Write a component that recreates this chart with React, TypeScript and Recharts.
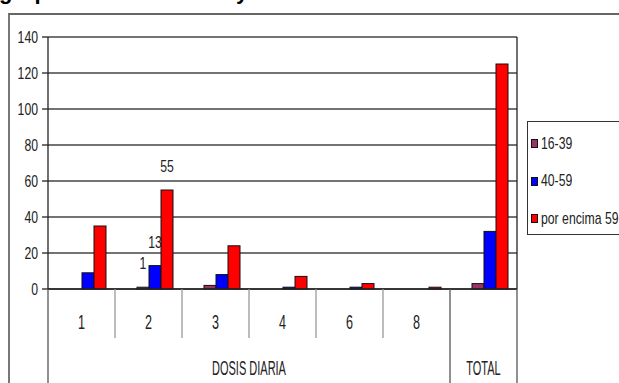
import React from "react"
import { BarChart, Bar, XAxis, YAxis, CartesianGrid, Legend, LabelList } from "recharts"

// dose levels (first axis level) + total column
const doseLevels = ["1", "2", "3", "4", "6", "8"]
const groupLabels = ["DOSIS DIARIA", "TOTAL"]
const categories = [...doseLevels, "TOTAL"]

const age16to39 = [0, 1, 2, 0, 0, 0, 3]
const age40to59 = [9, 13, 8, 1, 1, 0, 32]
const ageOver59 = [35, 55, 24, 7, 3, 1, 125]

const yTicks = [0, 20, 40, 60, 80, 100, 120, 140]
const labeledCategory = "2"

const series = [
  { key: "a", name: "16-39", color: "#993366", values: age16to39 },
  { key: "b", name: "40-59", color: "#0000ff", values: age40to59 },
  { key: "c", name: "por encima 59", color: "#ff0000", values: ageOver59 },
]

const data = categories.map((category, i) => ({
  category,
  a: age16to39[i],
  b: age40to59[i],
  c: ageOver59[i],
}))

const FONT = "'Liberation Sans', Arial, sans-serif"
const TEXT = "#222"
const SHIFT = 6 // excel draws the bar cluster a bit right of the category center

function CategoryTick(props: any) {
  const { x, y, payload, index } = props
  const half = typeof payload?.offset === "number" && payload.offset > 0 ? payload.offset : 33.5
  const n = doseLevels.length
  const isLongLeft = index === 0 || index === n
  const mid = (n - 1) / 2
  return (
    <g transform={`translate(${x},${y})`}>
      <line
        x1={-half}
        x2={-half}
        y1={0}
        y2={isLongLeft ? 94 : 49}
        stroke={isLongLeft ? "#555" : "#999"}
        strokeWidth={1.3}
      />
      {index === n && <line x1={half} x2={half} y1={0} y2={94} stroke="#555" strokeWidth={1.3} />}
      {index < n && (
        <text
          textAnchor="middle"
          y={40}
          fontSize={21}
          fontFamily={FONT}
          fill={TEXT}
          transform="scale(0.6,1)"
        >
          {payload.value}
        </text>
      )}
      {index === Math.floor(mid) && (
        <g transform={`translate(${(mid - index) * 2 * half},86)`}>
          <text textAnchor="middle" fontSize={20} fontFamily={FONT} fill={TEXT} transform="scale(0.55,1)">
            {groupLabels[0]}
          </text>
        </g>
      )}
      {index === n && (
        <text textAnchor="middle" y={86} fontSize={20} fontFamily={FONT} fill={TEXT} transform="scale(0.55,1)">
          {groupLabels[1]}
        </text>
      )}
    </g>
  )
}

function ValueTick(props: any) {
  const { x, y, payload } = props
  return (
    <g transform={`translate(${x},${y})`}>
      <text textAnchor="end" dy="0.355em" fontSize={17} fontFamily={FONT} fill={TEXT} transform="scale(0.72,1)">
        {payload.value}
      </text>
    </g>
  )
}

function ShiftedBar(props: any) {
  const { x, y, width, height, fill } = props
  if (!height || height <= 0) return <g />
  return <rect x={x + SHIFT} y={y} width={width} height={height} fill={fill} stroke="#111" strokeWidth={1} />
}

function PointLabel(props: any) {
  const { x, y, width, value, index } = props
  if (categories[index] !== labeledCategory) return null
  const cx = x + SHIFT + width / 2
  return (
    <g transform={`translate(${cx},${y - 18})`}>
      <text textAnchor="middle" fontSize={17} fontFamily={FONT} fill={TEXT} transform="scale(0.72,1)">
        {value}
      </text>
    </g>
  )
}

function LegendBox() {
  return (
    <div
      style={{
        width: 130,
        height: 114,
        boxSizing: "border-box",
        border: "1px solid #333",
        background: "#fff",
        paddingTop: 3,
      }}
    >
      {series.map((s) => (
        <div key={s.key} style={{ height: 37.5, display: "flex", alignItems: "center", position: "relative" }}>
          <span
            style={{
              position: "absolute",
              left: 3,
              width: 7,
              height: 9,
              background: s.color,
              border: "1px solid #111",
              boxSizing: "border-box",
            }}
          />
          <span
            style={{
              position: "absolute",
              left: 13,
              fontFamily: FONT,
              fontSize: 17,
              color: TEXT,
              whiteSpace: "nowrap",
              transform: "scaleX(0.72)",
              transformOrigin: "left center",
            }}
          >
            {s.name}
          </span>
        </div>
      ))}
    </div>
  )
}

export default function App() {
  return (
    <div
      style={{
        position: "absolute",
        left: 0,
        top: 0,
        width: 619,
        height: 383,
        overflow: "hidden",
        background: "#fff",
      }}
    >
      <svg width={619} height={20} style={{ position: "absolute", left: 0, top: 0 }}>
        <text y={-1} fontSize={22} fontWeight="bold" fontFamily={FONT} fill="#000">
          <tspan x={-1}>grupo de edad</tspan>
          <tspan x={236}>y dosis diaria</tspan>
        </text>
      </svg>
      <div
        style={{
          position: "absolute",
          left: 8,
          top: 13,
          width: 700,
          height: 500,
          borderLeft: "2px solid #777",
          borderTop: "2px solid #666",
        }}
      />
      <div style={{ position: "absolute", left: 0, top: 0 }}>
        <BarChart
          width={619}
          height={383}
          data={data}
          margin={{ top: 37, right: 101, left: 0, bottom: 0 }}
          barGap={0}
          barSize={12}
        >
          <CartesianGrid horizontal vertical={false} stroke="#444" strokeWidth={1.6} />
          <XAxis
            dataKey="category"
            height={94}
            interval={0}
            tickSize={0}
            tickMargin={0}
            tickLine={false}
            axisLine={{ stroke: "#222", strokeWidth: 1.5 }}
            tick={<CategoryTick />}
          />
          <YAxis
            domain={[0, 140]}
            ticks={yTicks}
            interval={0}
            width={48}
            tickSize={6}
            tickMargin={4}
            axisLine={{ stroke: "#222", strokeWidth: 1.3 }}
            tickLine={{ stroke: "#222", strokeWidth: 1.3 }}
            tick={<ValueTick />}
          />
          <YAxis
            yAxisId="frame"
            orientation="right"
            width={1}
            domain={[0, 140]}
            tick={false}
            tickLine={false}
            axisLine={{ stroke: "#222", strokeWidth: 1.3 }}
          />
          <Legend
            layout="vertical"
            align="center"
            verticalAlign="middle"
            wrapperStyle={{ left: 527, top: 121, width: 130 }}
            content={() => <LegendBox />}
          />
          {series.map((s) => (
            <Bar
              key={s.key}
              dataKey={s.key}
              name={s.name}
              fill={s.color}
              shape={<ShiftedBar />}
              isAnimationActive={false}
            >
              <LabelList dataKey={s.key} content={<PointLabel />} />
            </Bar>
          ))}
        </BarChart>
      </div>
    </div>
  )
}
